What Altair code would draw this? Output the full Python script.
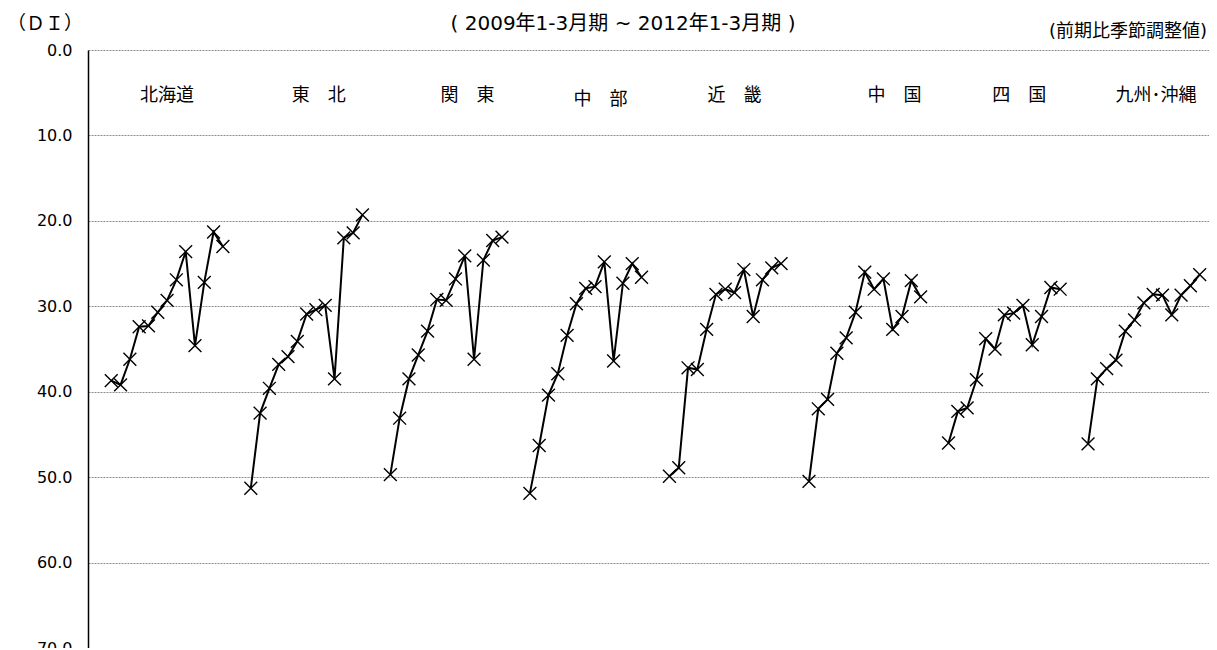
import altair as alt
import pandas as pd

# ---- data ----
regions = ["北海道", "東　北", "関　東", "中　部", "近　畿", "中　国", "四　国", "九州･沖縄"]
quarters = [
    "2009年1-3月期", "2009年4-6月期", "2009年7-9月期", "2009年10-12月期",
    "2010年1-3月期", "2010年4-6月期", "2010年7-9月期", "2010年10-12月期",
    "2011年1-3月期", "2011年4-6月期", "2011年7-9月期", "2011年10-12月期",
    "2012年1-3月期",
]
hokkaido = [38.7, 39.2, 36.2, 32.4, 32.3, 30.7, 29.3, 26.9, 23.6, 34.6, 27.2, 21.3, 23.0]
tohoku = [51.3, 42.5, 39.6, 36.8, 35.9, 34.1, 30.9, 30.4, 29.9, 38.5, 22.0, 21.4, 19.3]
kanto = [49.7, 43.1, 38.5, 35.7, 32.9, 29.2, 29.3, 26.8, 24.1, 36.2, 24.6, 22.3, 21.9]
chubu = [51.9, 46.3, 40.4, 37.9, 33.4, 29.7, 27.9, 27.7, 24.8, 36.4, 27.3, 25.0, 26.6]
kinki = [49.9, 48.9, 37.2, 37.4, 32.7, 28.6, 28.0, 28.4, 25.7, 31.2, 26.9, 25.5, 25.0]
chugoku = [50.5, 42.0, 40.9, 35.5, 33.7, 30.7, 26.0, 28.0, 26.8, 32.7, 31.2, 27.0, 28.9]
shikoku = [46.0, 42.3, 41.9, 38.6, 33.8, 35.0, 31.0, 30.8, 29.9, 34.5, 31.2, 27.8, 28.0]
kyushu = [46.1, 38.5, 37.3, 36.3, 32.9, 31.6, 29.6, 28.6, 28.7, 31.0, 28.7, 27.6, 26.3]
series = [hokkaido, tohoku, kanto, chubu, kinki, chugoku, shikoku, kyushu]

y_ticks = [0, 10, 20, 30, 40, 50, 60, 70]

title_text = "( 2009年1-3月期 ~ 2012年1-3月期 )"
unit_text = "（ＤＩ）"
note_text = "(前期比季節調整値)"

# ---- layout (slot positions on the category axis) ----
SLOTS = 15      # 13 quarters + 2 blank slots per region
LEAD = 2.5      # first quarter sits in the third slot
label_x = [8.5, 24.8, 40.8, 55.1, 69.5, 86.7, 100.1, 114.8]
label_y = [5.4, 5.4, 5.4, 5.8, 5.4, 5.4, 5.4, 5.4]

rows = []
for r, (name, vals) in enumerate(zip(regions, series)):
    for q, (qt, v) in enumerate(zip(quarters, vals)):
        rows.append({"region": name, "quarter": qt, "pos": r * SLOTS + q + LEAD, "di": v})
df = pd.DataFrame(rows)
labels = pd.DataFrame({"region": regions, "x": label_x, "y": label_y})

X_DOMAIN = [0, 120.5]
xs = alt.Scale(domain=X_DOMAIN)
ys = alt.Scale(domain=[0, 70], reverse=True)

LATIN = "DejaVu Sans, Noto Sans CJK JP"
CJK = "Noto Sans CJK JP"

base = alt.Chart(df)

lines = base.mark_line(color="black", strokeWidth=2).encode(
    x=alt.X("pos:Q", scale=xs, axis=None),
    y=alt.Y(
        "di:Q",
        scale=ys,
        axis=alt.Axis(
            values=y_ticks,
            format=".1f",
            title=None,
            ticks=False,
            labelPadding=16,
            labelFont="DejaVu Sans",
            labelFontSize=16,
            labelColor="black",
            domainColor="black",
            domainWidth=1.5,
            grid=True,
            gridColor="#8c8c8c",
            gridDash=[2, 1],
            gridWidth=1,
        ),
    ),
    detail="region:N",
)

points = base.mark_point(
    shape="M-1,-1L1,1M-1,1L1,-1",
    filled=False,
    color="black",
    strokeWidth=1.4,
    size=165,
    opacity=1,
).encode(
    x=alt.X("pos:Q", scale=xs),
    y=alt.Y("di:Q", scale=ys),
    tooltip=["region:N", "quarter:N", "di:Q"],
)

region_text = alt.Chart(labels).mark_text(
    font=CJK, fontSize=18, color="black", align="center", baseline="middle"
).encode(
    x=alt.X("x:Q", scale=xs),
    y=alt.Y("y:Q", scale=ys),
    text="region:N",
)

def annotation(txt, px, py, size, align, font):
    return alt.Chart(pd.DataFrame({"t": [txt]})).mark_text(
        font=font, fontSize=size, color="black", align=align, baseline="middle"
    ).encode(x=alt.value(px), y=alt.value(py), text="t:N")

title_mark = annotation(title_text, 535, -26, 20, "center", LATIN)
unit_mark = annotation(unit_text, -43, -26, 19, "center", CJK)
note_mark = annotation(note_text, 1119, -18, 18, "right", LATIN)

chart = (
    alt.layer(lines, points, region_text, title_mark, unit_mark, note_mark)
    .properties(
        width=1121,
        height=598,
        padding={"left": 80, "top": 42, "right": 0, "bottom": 0},
        autosize=alt.AutoSizeParams(type="none"),
        background="white",
    )
    .configure_view(strokeWidth=0)
)

chart.save("out.html", embed_options={"renderer": "svg", "actions": False})
